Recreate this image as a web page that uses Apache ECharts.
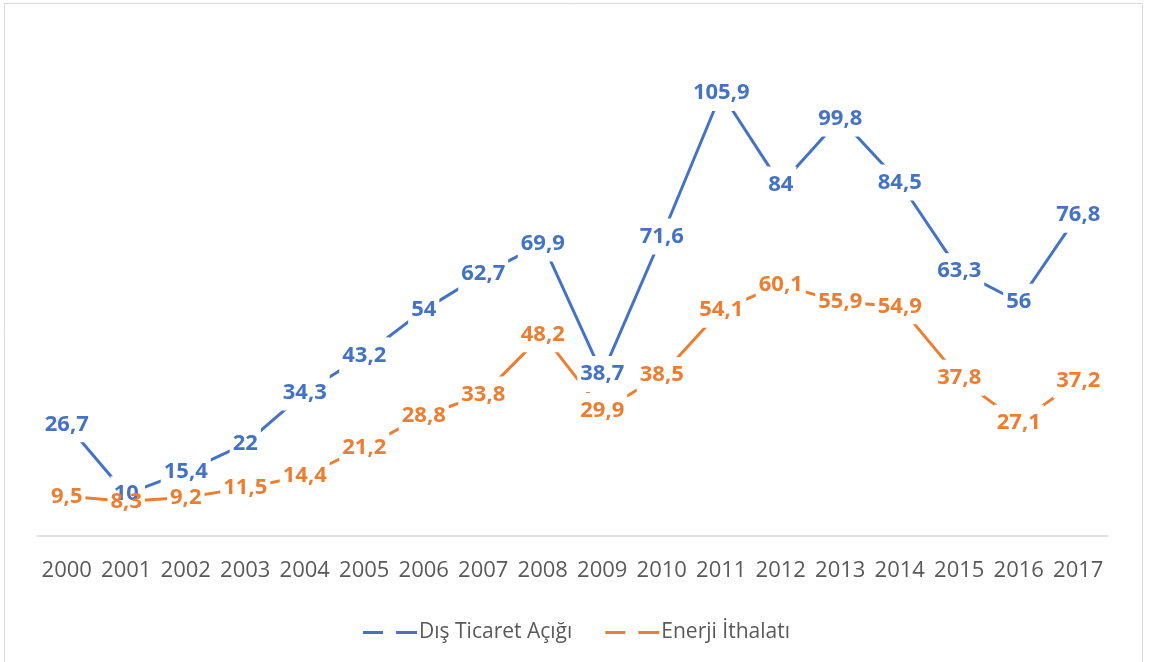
<!DOCTYPE html>
<html>
<head>
<meta charset="utf-8">
<title>Dış Ticaret Açığı ve Enerji İthalatı</title>
<script src="https://cdn.jsdelivr.net/npm/echarts@6/dist/echarts.min.js"></script>
<style>
  html, body { margin: 0; padding: 0; background: #fff; }
  #chart { width: 1153px; height: 662px; }
</style>
</head>
<body>
<div id="chart"></div>
<script>
  // yıllar
  const years = ['2000', '2001', '2002', '2003', '2004', '2005', '2006', '2007', '2008',
    '2009', '2010', '2011', '2012', '2013', '2014', '2015', '2016', '2017']
  // Dış ticaret açığı (milyar $)
  const disTicaret = [26.7, 10, 15.4, 22, 34.3, 43.2, 54, 62.7, 69.9,
    38.7, 71.6, 105.9, 84, 99.8, 84.5, 63.3, 56, 76.8]
  // Enerji ithalatı (milyar $)
  const enerji = [9.5, 8.3, 9.2, 11.5, 14.4, 21.2, 28.8, 33.8, 48.2,
    29.9, 38.5, 54.1, 60.1, 55.9, 54.9, 37.8, 27.1, 37.2]

  const blue = '#4472C4'
  const orange = '#ED7D31'
  const font = '"Open Sans", "Noto Sans", sans-serif'
  // legend icon: two short dashes, like the Excel legend
  const dashIcon = 'path://M0,0H20V3H0Z M33,0H54V3H33Z'

  const chart = echarts.init(document.getElementById('chart'))

  const fmt = p => String(p.value).replace('.', ',')

  // 3 layers: lines (z 2) -> white label boxes (z 3) -> label text (z 4)
  // so the boxes cut the lines but never hide another label's text
  const lineSeries = (name, data, color) => ({
    name: name,
    type: 'line',
    z: 2,
    data: data,
    symbol: 'none',
    lineStyle: { color: color, width: 3 },
    itemStyle: { color: color }
  })

  const labelSeries = (name, data, color, mask) => ({
    name: name,
    type: 'line',
    z: mask ? 3 : 4,
    data: data,
    symbol: 'circle',
    symbolSize: 0,
    showSymbol: true,
    showAllSymbol: true,
    silent: true,
    lineStyle: { opacity: 0 },
    itemStyle: { color: color },
    label: {
      show: true,
      position: 'inside',
      color: mask ? 'rgba(0,0,0,0)' : color,
      fontFamily: font,
      fontWeight: 'bold',
      fontSize: 22,
      backgroundColor: mask ? '#fff' : 'transparent',
      padding: [7, 3],
      formatter: fmt
    },
    labelLayout: { hideOverlap: false }
  })

  const option = {
    animation: false,
    backgroundColor: '#fff',
    graphic: [{
      type: 'rect',
      shape: { x: 4.5, y: 3.5, width: 1138, height: 700 },
      style: { fill: 'none', stroke: '#d9d9d9', lineWidth: 1 },
      silent: true
    }],
    grid: { left: 37, right: 45, top: 34, bottom: 126 },
    legend: {
      left: 'center',
      top: 617,
      icon: dashIcon,
      itemWidth: 54,
      itemHeight: 3,
      itemGap: 33,
      textStyle: { fontFamily: font, fontSize: 21, color: '#595959', padding: [0, 0, 0, -3] },
      data: ['Dış Ticaret Açığı', 'Enerji İthalatı']
    },
    xAxis: {
      type: 'category',
      data: years,
      boundaryGap: true,
      axisLine: { lineStyle: { color: '#d9d9d9', width: 1.5 } },
      axisTick: { show: false },
      axisLabel: { interval: 0, fontFamily: font, fontSize: 22, color: '#595959', margin: 24 }
    },
    yAxis: {
      type: 'value',
      min: 0,
      max: 120,
      show: false,
      splitLine: { show: false }
    },
    series: [
      lineSeries('Dış Ticaret Açığı', disTicaret, blue),
      lineSeries('Enerji İthalatı', enerji, orange),
      labelSeries('Dış Ticaret Açığı', disTicaret, blue, true),
      labelSeries('Enerji İthalatı', enerji, orange, true),
      labelSeries('Dış Ticaret Açığı', disTicaret, blue, false),
      labelSeries('Enerji İthalatı', enerji, orange, false)
    ]
  }

  chart.setOption(option)
</script>
</body>
</html>
